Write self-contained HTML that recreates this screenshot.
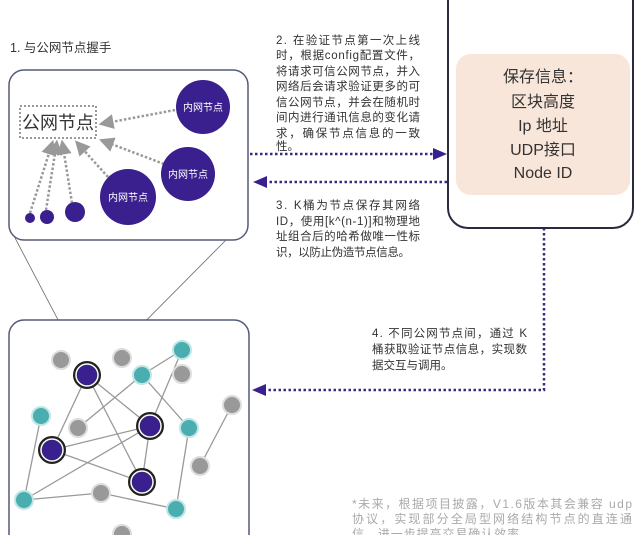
<!DOCTYPE html>
<html><head><meta charset="utf-8"><style>
html,body{margin:0;padding:0;background:#fff;}
svg{display:block}
text{font-family:"Liberation Sans","Noto Sans CJK SC",sans-serif;}
</style></head><body>
<svg width="640" height="535" viewBox="0 0 640 535" xmlns="http://www.w3.org/2000/svg">
<defs>
<marker id="ga" markerWidth="6" markerHeight="6" refX="3" refY="3" orient="auto"><path d="M0,0 L6,3 L0,6 z" fill="#999"/></marker>
</defs>
<text x="10" y="52" font-size="12.5" fill="#333">1. 与公网节点握手</text>
<rect x="9" y="70" width="239" height="170" rx="15" fill="#fff" stroke="#555a78" stroke-width="1.5"/>
<line x1="14" y1="236" x2="87" y2="375" stroke="#666" stroke-width="0.8"/>
<line x1="226" y1="240" x2="95" y2="372" stroke="#666" stroke-width="0.8"/>
<rect x="20" y="106" width="76" height="32" fill="none" stroke="#999" stroke-width="2" stroke-dasharray="2,2"/>
<text x="58" y="129" font-size="18" fill="#333" text-anchor="middle">公网节点</text>
<g stroke="#999" stroke-width="2.5" stroke-dasharray="2.5,2" marker-end="url(#ga)">
<line x1="175" y1="110" x2="106" y2="123"/>
<line x1="164" y1="164" x2="106" y2="142"/>
<line x1="108" y1="177" x2="80" y2="146"/>
<line x1="72" y1="203" x2="63" y2="147"/>
<line x1="46" y1="210" x2="56" y2="147"/>
<line x1="30" y1="213" x2="51" y2="147"/>
</g>
<g fill="#3a1f8e">
<circle cx="203" cy="107" r="27"/><circle cx="188" cy="174" r="27"/><circle cx="128" cy="197" r="28"/>
<circle cx="30" cy="218" r="5"/><circle cx="47" cy="217" r="7"/><circle cx="75" cy="212" r="10"/>
</g>
<g font-size="10" fill="#fff" text-anchor="middle">
<text x="203" y="111">内网节点</text><text x="188" y="178">内网节点</text><text x="128" y="201">内网节点</text>
</g>
<g font-size="11.5" fill="#333" lengthAdjust="spacing">
<text x="276" y="44" textLength="144">2. 在验证节点第一次上线</text>
<text x="276" y="59" textLength="144">时，根据config配置文件，</text>
<text x="276" y="75" textLength="144">将请求可信公网节点，并入</text>
<text x="276" y="90" textLength="144">网络后会请求验证更多的可</text>
<text x="276" y="106" textLength="144">信公网节点，并会在随机时</text>
<text x="276" y="121" textLength="144">间内进行通讯信息的变化请</text>
<text x="276" y="137" textLength="144">求，确保节点信息的一致</text>
<text x="276" y="150">性。</text>
<text x="276" y="209" textLength="144">3. K桶为节点保存其网络</text>
<text x="276" y="225" textLength="144">ID，使用[k^(n-1)]和物理地</text>
<text x="276" y="240" textLength="144">址组合后的哈希做唯一性标</text>
<text x="276" y="256" textLength="134">识，以防止伪造节点信息。</text>
<text x="372" y="337" textLength="155">4. 不同公网节点间，通过  K</text>
<text x="372" y="353" textLength="155">桶获取验证节点信息，实现数</text>
<text x="372" y="369">据交互与调用。</text>
</g>
<g font-size="12" fill="#aaa">
<text x="352" y="508" textLength="280">*未来，根据项目披露，V1.6版本其会兼容 udp</text>
<text x="352" y="523" textLength="280">协议，实现部分全局型网络结构节点的直连通</text>
<text x="352" y="538" textLength="180">信，进一步提高交易确认效率。</text>
</g>
<g stroke="#3a2a7e" stroke-width="2.5" stroke-dasharray="2.5,2.5" fill="none">
<line x1="250" y1="154" x2="435" y2="154"/>
<line x1="447" y1="182" x2="265" y2="182"/>
<polyline points="544,228 544,390 265,390"/>
</g>
<path d="M447,154 L433,148 L433,160 z" fill="#3a1f8e"/>
<path d="M253,182 L267,176 L267,188 z" fill="#3a1f8e"/>
<path d="M252,390 L266,384 L266,396 z" fill="#3a1f8e"/>
<rect x="448" y="-20" width="185" height="248" rx="20" fill="#fff" stroke="#2a2a40" stroke-width="2"/>
<rect x="456" y="54" width="174" height="141" rx="15" fill="#f8e6da"/>
<g font-size="16" fill="#333" text-anchor="middle">
<text x="543" y="82">保存信息：</text>
<text x="543" y="107">区块高度</text>
<text x="543" y="131">Ip 地址</text>
<text x="543" y="155">UDP接口</text>
<text x="543" y="178">Node ID</text>
</g>
<rect x="9" y="320" width="240" height="240" rx="15" fill="#fff" stroke="#555a78" stroke-width="1.5"/>
<g stroke="#999" stroke-width="1.3">
<line x1="87" y1="375" x2="150" y2="426"/><line x1="87" y1="375" x2="142" y2="482"/><line x1="87" y1="375" x2="52" y2="450"/>
<line x1="142" y1="375" x2="182" y2="350"/><line x1="142" y1="375" x2="78" y2="428"/><line x1="142" y1="375" x2="189" y2="428"/>
<line x1="182" y1="350" x2="150" y2="426"/><line x1="150" y1="426" x2="52" y2="450"/><line x1="150" y1="426" x2="24" y2="500"/>
<line x1="150" y1="426" x2="142" y2="482"/><line x1="52" y1="450" x2="142" y2="482"/><line x1="41" y1="416" x2="24" y2="500"/>
<line x1="24" y1="500" x2="101" y2="493"/><line x1="101" y1="493" x2="176" y2="509"/><line x1="189" y1="428" x2="176" y2="509"/>
<line x1="232" y1="405" x2="200" y2="466"/>
</g>
<g fill="#999" stroke="#ddd" stroke-width="2">
<circle cx="61" cy="360" r="9"/><circle cx="122" cy="358" r="9"/><circle cx="182" cy="374" r="9"/><circle cx="78" cy="428" r="9"/>
<circle cx="232" cy="405" r="9"/><circle cx="200" cy="466" r="9"/><circle cx="101" cy="493" r="9"/><circle cx="122" cy="534" r="9"/>
</g>
<g fill="#4aaeb0" stroke="#bfe6e6" stroke-width="2">
<circle cx="182" cy="350" r="9"/><circle cx="142" cy="375" r="9"/><circle cx="41" cy="416" r="9"/><circle cx="189" cy="428" r="9"/>
<circle cx="24" cy="500" r="9"/><circle cx="176" cy="509" r="9"/>
</g>
<g fill="#3a1f8e" stroke="#222" stroke-width="4">
<circle cx="87" cy="375" r="12"/><circle cx="150" cy="426" r="12"/><circle cx="52" cy="450" r="12"/><circle cx="142" cy="482" r="12"/>
</g>
<g fill="none" stroke="#fff" stroke-width="1.5">
<circle cx="87" cy="375" r="11"/><circle cx="150" cy="426" r="11"/><circle cx="52" cy="450" r="11"/><circle cx="142" cy="482" r="11"/>
</g>
</svg>
</body></html>
